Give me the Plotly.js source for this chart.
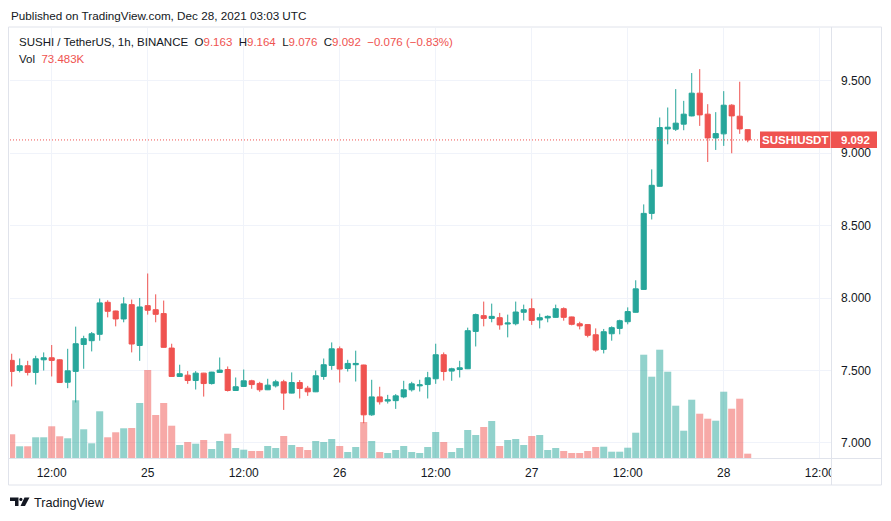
<!DOCTYPE html>
<html><head><meta charset="utf-8">
<script src="https://cdn.plot.ly/plotly-3.0.1.min.js"></script>
<style>html,body{margin:0;padding:0;background:#fff;}#chart{width:891px;height:521px;}</style>
</head><body><div id="chart"></div>
<script>
// hourly candles, first candle Dec 24 2021 07:00 UTC
const startHourUTC = Date.UTC(2021, 11, 24, 7);
const openP = [7.570,7.500,7.533,7.487,7.574,7.588,7.574,7.419,7.494,7.680,
7.706,7.750,7.971,7.911,7.856,7.955,7.673,7.948,7.920,7.893,
7.655,7.459,7.468,7.431,7.482,7.410,7.487,7.507,7.362,7.390,
7.429,7.411,7.367,7.394,7.422,7.344,7.417,7.378,7.353,7.459,
7.535,7.650,7.514,7.540,7.538,7.194,7.318,7.289,7.292,7.318,
7.367,7.394,7.403,7.443,7.609,7.496,7.507,7.512,7.770,7.879,
7.860,7.865,7.821,7.823,7.902,7.927,7.849,7.863,7.867,7.927,
7.870,7.823,7.817,7.747,7.646,7.754,7.791,7.837,7.902,8.060,
8.585,8.772,9.168,9.166,9.201,9.258,9.415,9.270,9.106,9.134,
9.332,9.256,9.163];
const highP = [7.616,7.583,7.567,7.602,7.625,7.676,7.578,7.650,7.803,7.740,
7.766,7.997,7.985,7.913,8.006,7.990,8.001,8.170,8.026,7.983,
7.685,7.540,7.496,7.496,7.484,7.491,7.590,7.528,7.452,7.507,
7.436,7.422,7.443,7.436,7.436,7.487,7.434,7.394,7.500,7.583,
7.694,7.666,7.574,7.637,7.540,7.436,7.388,7.332,7.337,7.429,
7.422,7.436,7.491,7.685,7.625,7.519,7.567,7.796,7.893,7.976,
7.962,7.898,7.886,7.976,7.955,7.997,7.893,7.881,7.955,7.936,
7.872,7.837,7.819,7.791,7.787,7.805,7.851,7.936,8.123,8.647,
8.889,9.247,9.316,9.443,9.362,9.554,9.581,9.339,9.284,9.429,
9.339,9.494,9.164];
const lowP = [7.390,7.487,7.466,7.403,7.500,7.459,7.414,7.378,7.279,7.512,
7.632,7.706,7.867,7.805,7.833,7.625,7.567,7.886,7.833,7.658,
7.457,7.457,7.408,7.369,7.320,7.403,7.485,7.355,7.360,7.388,
7.374,7.353,7.365,7.383,7.228,7.342,7.307,7.325,7.351,7.436,
7.505,7.417,7.493,7.424,7.136,7.187,7.265,7.272,7.235,7.309,
7.355,7.355,7.307,7.408,7.431,7.429,7.452,7.510,7.666,7.805,
7.833,7.782,7.729,7.812,7.846,7.815,7.791,7.833,7.865,7.844,
7.812,7.784,7.729,7.630,7.618,7.706,7.750,7.819,7.900,8.058,
8.543,8.770,9.062,9.154,9.159,9.255,9.189,8.940,9.023,9.051,
9.000,9.134,9.076];
const closeP = [7.494,7.533,7.487,7.581,7.588,7.570,7.417,7.498,7.685,7.720,
7.754,7.967,7.909,7.856,7.960,7.683,7.939,7.916,7.888,7.660,
7.459,7.478,7.431,7.482,7.410,7.489,7.503,7.362,7.388,7.429,
7.403,7.367,7.399,7.422,7.344,7.417,7.376,7.353,7.464,7.540,
7.650,7.510,7.549,7.549,7.194,7.318,7.284,7.298,7.325,7.367,
7.408,7.401,7.450,7.609,7.493,7.512,7.519,7.775,7.886,7.860,
7.874,7.815,7.828,7.904,7.920,7.846,7.865,7.874,7.927,7.867,
7.819,7.808,7.743,7.641,7.768,7.796,7.844,7.907,8.064,8.585,
8.779,9.178,9.180,9.208,9.270,9.415,9.265,9.106,9.136,9.332,
9.258,9.168,9.092];
// volume in thousands (K)
const volumeK = [403,199,199,352,352,539,369,335,981,488,
250,794,352,437,505,510,935,1496,731,935,
549,221,272,243,306,153,289,413,170,141,
119,119,204,170,374,221,187,136,289,272,
323,204,102,187,612,289,102,85,136,204,
102,85,187,442,272,102,170,476,391,527,
629,204,306,323,221,374,391,136,170,119,
85,85,119,187,192,107,107,175,430,1756,
1382,1841,1467,889,464,991,753,668,634,1127,
838,1008,73.483];

const tickTimes = ["2021-12-24 12:00","2021-12-25 00:00","2021-12-25 12:00","2021-12-26 00:00","2021-12-26 12:00","2021-12-27 00:00","2021-12-27 12:00","2021-12-28 00:00","2021-12-28 12:00"];
const tickLabels = ["12:00","25","12:00","26","12:00","27","12:00","28","12:00"];
const priceTicks = [7.0,7.5,8.0,8.5,9.0,9.5];
const priceTickLabels = ["7.000","7.500","8.000","8.500","9.000","9.500"];

const publishedText = "Published on TradingView.com, Dec 28, 2021 03:03 UTC";
const symbolText = "SUSHI / TetherUS, 1h, BINANCE";
const symbolShort = "SUSHIUSDT";
const volLabel = "73.483K";

const UP = '#26a69a', DN = '#ef5350';
const UPV = 'rgba(38,166,154,0.5)', DNV = 'rgba(239,83,80,0.5)';

const times = openP.map((_, i) => new Date(startHourUTC + i * 3600000).toISOString().slice(0, 16).replace('T', ' '));
const volColors = openP.map((o, i) => closeP[i] >= o ? UPV : DNV);

const n = openP.length - 1;
const lastC = closeP[n], prevC = closeP[n - 1];
const chg = lastC - prevC;
const red = s => `<span style="color:${DN}">${s}</span>`;
const minus = '\u2212';
const fmtS = v => (v < 0 ? minus : '+') + Math.abs(v).toFixed(3);
const pct = (chg / prevC * 100);
const sp = '&nbsp;&nbsp;';
const line2 = `${symbolText}${sp}O${red(openP[n].toFixed(3))}${sp}H${red(highP[n].toFixed(3))}${sp}L${red(lowP[n].toFixed(3))}${sp}C${red(lastC.toFixed(3))}${sp}${red(fmtS(chg) + ' (' + (pct < 0 ? minus : '+') + Math.abs(pct).toFixed(2) + '%)')}`;
const line3 = `Vol&nbsp;&nbsp;${red(volLabel)}`;

// pixel helpers (plot area: x 10..831, y 28..458)
const L = 10, R = 831, T = 28, B = 458;
const px = x => (x - L) / (R - L);
const py = y => (B - y) / (B - T);

const font = 'Liberation Sans, Arial, sans-serif';
const txt = '#131722';
const frameC = '#e0e3eb';

const traces = [
  {type: 'bar', x: times, y: volumeK, marker: {color: volColors, line: {width: 0}}, yaxis: 'y', xaxis: 'x', hoverinfo: 'skip'},
  {type: 'candlestick', x: times, open: openP, high: highP, low: lowP, close: closeP, xaxis: 'x', yaxis: 'y2',
   increasing: {line: {color: UP, width: 1}, fillcolor: UP},
   decreasing: {line: {color: DN, width: 1}, fillcolor: DN},
   whiskerwidth: 0, hoverinfo: 'skip'}
];

const shapes = [
  // hide overflow of last time label under the price scale
  {type: 'rect', xref: 'paper', yref: 'paper', x0: px(831.5), x1: px(881), y0: py(484.5), y1: py(458.6), fillcolor: '#ffffff', line: {width: 0}, layer: 'above'},
  // frame
  {type: 'rect', xref: 'paper', yref: 'paper', x0: px(8.5), x1: px(881.5), y0: py(485), y1: py(27), line: {color: frameC, width: 1}, layer: 'above'},
  {type: 'line', xref: 'paper', yref: 'paper', x0: px(831.5), x1: px(831.5), y0: py(485), y1: py(27), line: {color: frameC, width: 1}, layer: 'above'},
  {type: 'line', xref: 'paper', yref: 'paper', x0: px(8.5), x1: px(881.5), y0: py(458.5), y1: py(458.5), line: {color: frameC, width: 1}, layer: 'above'},
  // last price line
  {type: 'line', xref: 'paper', yref: 'y2', x0: 0, x1: px(758), y0: lastC, y1: lastC, line: {color: DN, width: 1, dash: '1px,2px'}, layer: 'above'},
  // price tag
  {type: 'rect', xref: 'paper', yref: 'y2', x0: px(760), x1: px(877), y0: lastC - 8 / 144.85, y1: lastC + 8.5 / 144.85, fillcolor: DN, line: {width: 0}, layer: 'above'},
  {type: 'line', xref: 'paper', yref: 'y2', x0: px(830.5), x1: px(830.5), y0: lastC - 8 / 144.85, y1: lastC + 8.5 / 144.85, line: {color: '#f3b1af', width: 1}, layer: 'above'},
  // TradingView logo glyph
  {type: 'path', xref: 'paper', yref: 'paper', path: `M ${px(10)} ${py(497.5)} L ${px(18.5)} ${py(497.5)} L ${px(18.5)} ${py(506)} L ${px(15)} ${py(506)} L ${px(15)} ${py(501)} L ${px(10)} ${py(501)} Z`, fillcolor: '#131722', line: {width: 0}, layer: 'above'},
  {type: 'circle', xref: 'paper', yref: 'paper', x0: px(19.3), x1: px(22.5), y0: py(501), y1: py(497.8), fillcolor: '#131722', line: {width: 0}, layer: 'above'},
  {type: 'path', xref: 'paper', yref: 'paper', path: `M ${px(24.5)} ${py(497.5)} L ${px(29.5)} ${py(497.5)} L ${px(25)} ${py(506)} L ${px(20.5)} ${py(506)} Z`, fillcolor: '#131722', line: {width: 0}, layer: 'above'}
];

const ann = (x, y, text, size, color, extra) => Object.assign({xref: 'paper', yref: 'paper', x: px(x), y: py(y), text, showarrow: false, xanchor: 'left', yanchor: 'middle', font: {family: font, size, color}}, extra || {});

const annotations = [
  ann(9, 15, publishedText, 11.7, txt),
  ann(17, 42, line2, 11.5, txt),
  ann(17, 58.5, line3, 11.5, txt),
  ann(795, 0, `<b>${symbolShort}</b>`, 11.5, '#ffffff', {xanchor: 'center', yref: 'y2', y: lastC}),
  ann(855, 0, `<b>${lastC.toFixed(3)}</b>`, 11.5, '#ffffff', {xanchor: 'center', yref: 'y2', y: lastC}),
  ann(32, 502.5, 'TradingView', 12.7, txt)
];

const layout = {
  width: 891, height: 521,
  margin: {l: L, r: 891 - R, t: T, b: 521 - B, pad: 0},
  paper_bgcolor: '#ffffff', plot_bgcolor: '#ffffff',
  showlegend: false, hovermode: false,
  bargap: 0.12,
  boxgap: 0.2, boxgroupgap: 0.2,
  font: {family: font, size: 12, color: txt},
  xaxis: {type: 'date', range: ['2021-12-24 06:47:15', '2021-12-28 13:24:36'],
    tickvals: tickTimes, ticktext: tickLabels, showgrid: true, gridcolor: '#f0f3fa', gridwidth: 1,
    zeroline: false, showline: false, ticks: '', tickfont: {family: font, size: 12, color: txt},
    ticklabelstandoff: 6, rangeslider: {visible: false}, fixedrange: true},
  yaxis: {range: [0, 7310], visible: false, showgrid: false, zeroline: false, fixedrange: true},
  yaxis2: {overlaying: 'y', side: 'right', anchor: 'x', range: [6.896, 9.865],
    tickvals: priceTicks, ticktext: priceTickLabels, showgrid: true, gridcolor: '#f0f3fa', gridwidth: 1,
    zeroline: false, showline: false, ticks: '', tickfont: {family: font, size: 12, color: txt},
    ticklabelstandoff: 9, fixedrange: true},
  shapes, annotations
};

Plotly.newPlot('chart', traces, layout, {displayModeBar: false, staticPlot: true});
</script>
</body></html>
